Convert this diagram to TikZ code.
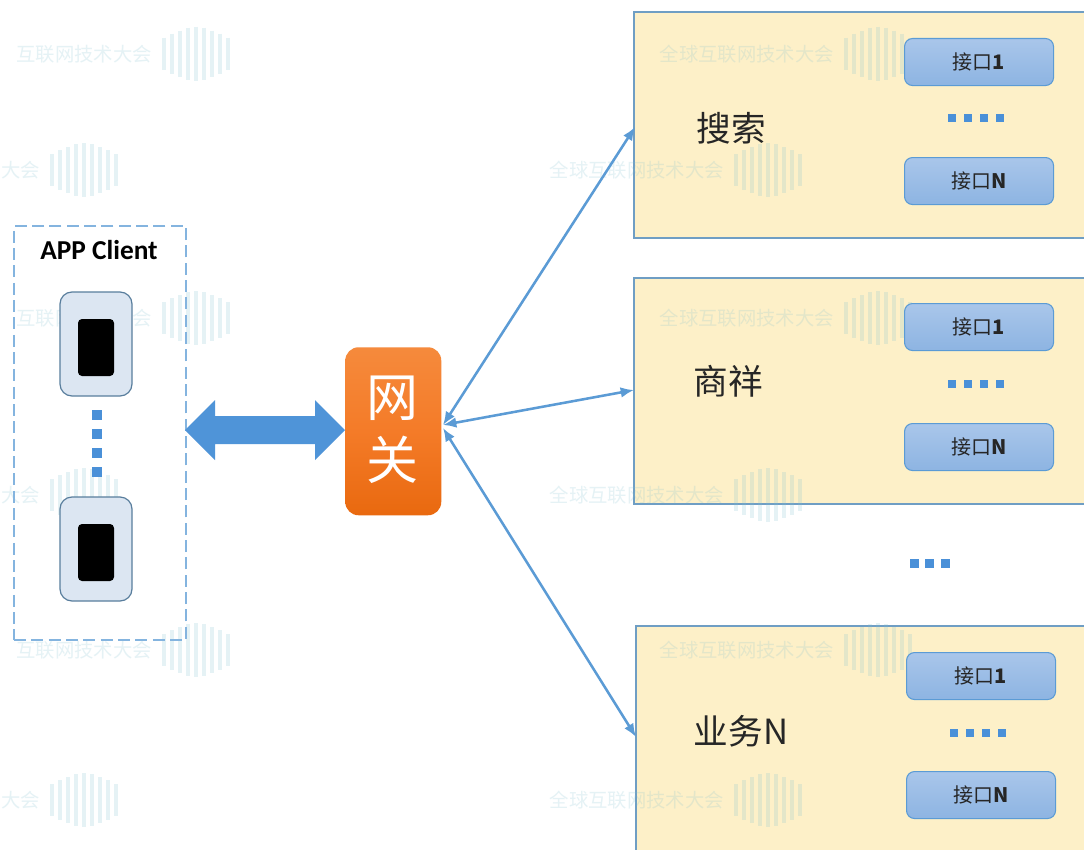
\documentclass[tikz,border=0pt]{standalone}
\usepackage{fontspec}
\setmainfont{Carlito}
\newfontfamily\cjk{Noto Sans CJK SC}
\usetikzlibrary{arrows.meta}
\definecolor{linkblue}{HTML}{5B9BD5}
\definecolor{bigblue}{HTML}{4F94D8}
\definecolor{dotblue}{HTML}{4A90D8}
\definecolor{boxfill}{HTML}{FDF0C8}
\definecolor{boxedge}{HTML}{6F9EC4}
\definecolor{wmark}{HTML}{7FBFCF}
\definecolor{phonefill}{HTML}{DCE6F2}
\definecolor{boxtop}{HTML}{A9C6EA}
\definecolor{boxbot}{HTML}{8DB4E2}
\definecolor{gwtop}{HTML}{F58A3C}
\definecolor{gwmid}{HTML}{F47B28}
\definecolor{gwbot}{HTML}{E9690F}
\tikzset{
  x=0.75pt,y=-0.75pt,
  service/.style={draw=boxedge,line width=1.4pt,fill=boxfill,anchor=north west,inner sep=0pt,minimum width=352.5pt},
  iface/.style={draw=linkblue,line width=0.8pt,rounded corners=6pt,top color=boxtop,bottom color=boxbot,minimum width=111.75pt,minimum height=35.25pt,anchor=north west,inner sep=0pt,font=\cjk\fontsize{15}{17}\selectfont,text=black!85},
  phonebody/.style={draw=boxedge!80!black,line width=0.9pt,fill=phonefill,rounded corners=9pt,minimum width=54pt,minimum height=78pt,inner sep=0pt},
  phonescreen/.style={fill=black,rounded corners=3pt,minimum width=27pt,minimum height=42.75pt,inner sep=0pt},
  link/.style={draw=linkblue,line width=1.9pt,{Latex[length=10pt,width=8pt]}-{Latex[length=10pt,width=8pt]}},
  dotmark/.style={fill=dotblue,draw=none},
  wmtext/.style={text=wmark,text opacity=0.2,font=\cjk\fontsize{14.5}{15}\selectfont,anchor=east,inner sep=0pt},
  wmbar/.style={draw=wmark,draw opacity=0.2,line width=3pt},
  svclabel/.style={font=\cjk\fontsize{26}{30}\selectfont,text=black!85,inner sep=0pt},
  gwlabel/.style={text=white,font=\cjk\fontsize{39}{42}\selectfont,inner sep=0pt},
}
\newcommand{\wmk}[4]{% logo centre x, y, name, text
  \node[wmtext] (#3) at (#1-44,#2) {#4};
  \foreach \dx/\h in {-32/16,-24/20,-16/23,-8/26,0/27,8/26,16/23,24/20,32/16}
    \draw[wmbar] (#1+\dx,#2-\h) -- (#1+\dx,#2+\h);
}
\begin{document}
\begin{tikzpicture}
\useasboundingbox (0,0) rectangle (1084,849);
\clip (0,0) rectangle (1084,849);
\fill[white] (0,0) rectangle (1084,849);
\node[service,minimum height=169.5pt] (s1) at (633,11) {};
\node[service,minimum height=169.5pt] (s2) at (633,277) {};
\node[service,minimum height=180pt] (s3) at (635,625) {};
\wmk{196}{54}{w1}{互联网技术大会}
\wmk{84}{170}{w2}{大会}
\wmk{196}{318}{w3}{互联网技术大会}
\wmk{84}{495}{w4}{大会}
\wmk{196}{650}{w5}{互联网技术大会}
\wmk{84}{800}{w6}{大会}
\wmk{768}{170}{w7}{全球互联网技术大会}
\wmk{768}{495}{w8}{全球互联网技术大会}
\wmk{768}{800}{w9}{全球互联网技术大会}
\wmk{878}{54}{w10}{全球互联网技术大会}
\wmk{878}{318}{w11}{全球互联网技术大会}
\wmk{878}{650}{w12}{全球互联网技术大会}
\node[iface] (a) at (904,38) {接口\textbf{1}};
\node[iface] (b) at (904,157) {接口\textbf{N}};
\node[iface] (c) at (904,303) {接口\textbf{1}};
\node[iface] (d) at (904,423) {接口\textbf{N}};
\node[iface] (e) at (906,652) {接口\textbf{1}};
\node[iface] (f) at (906,771) {接口\textbf{N}};
\node[svclabel] (l1) at (731,128) {搜索};
\node[svclabel] (l2) at (728,381) {商祥};
\node[svclabel] (l3) at (741,731) {业务N};
\foreach \yy/\xs in {118/952,384/952,733/954}
  \foreach \i in {0,1,2,3}
    \fill[dotmark] (\xs+\i*16-4,\yy-4) rectangle ++(8,8);
\foreach \i in {0,1,2}
  \fill[dotmark] (914+\i*15.5-4.5,563-4.5) rectangle ++(9,9);
\node[draw=linkblue!75,dash pattern=on 9pt off 4pt,line width=1.7pt,minimum width=129pt,minimum height=310.5pt,anchor=north west,inner sep=0pt] (client) at (13,225) {};
\node[font=\bfseries\fontsize{20.5}{22}\selectfont,inner sep=0pt] (title) at (99,250) {APP Client};
\node[phonebody] (p1) at (96,344) {};
\node[phonescreen] (p1s) at (96,347.5) {};
\node[phonebody] (p2) at (96,549) {};
\node[phonescreen] (p2s) at (96,552.5) {};
\foreach \yy in {415,434,453,472}
  \fill[dotmark] (92,\yy-5) rectangle ++(10,10);
\node[rounded corners=10pt,top color=gwtop,bottom color=gwbot,middle color=gwmid,minimum width=72pt,minimum height=126pt,inner sep=0pt,anchor=north west] (gw) at (345,347) {};
\node[gwlabel] (gw1) at (392,398) {网};
\node[gwlabel] (gw2) at (392,460) {关};
\fill[bigblue] (185,430) -- (215,400) -- (215,416) -- (315,416) -- (315,400) -- (345,430) -- (315,460) -- (315,444) -- (215,444) -- (215,460) -- cycle;
\coordinate (g1) at (443,425);
\coordinate (g2) at (443,428);
\coordinate (t1) at (635,127);
\coordinate (t2) at (634,390);
\coordinate (t3) at (636,737);
\draw[link] (g1) -- (t1);
\draw[link] (g1) -- (t2);
\draw[link] (g2) -- (t3);
\end{tikzpicture}
\end{document}
